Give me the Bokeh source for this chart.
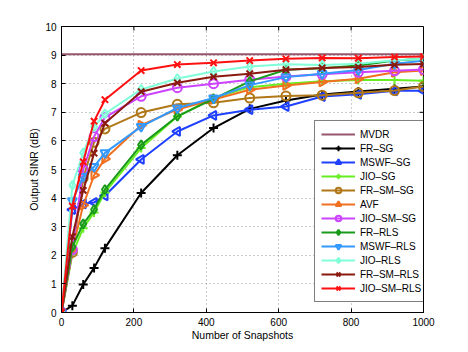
from math import pi
from bokeh.plotting import figure
from bokeh.models import Range1d, Legend, LegendItem, FixedTicker
from bokeh.embed import file_html
from bokeh.resources import INLINE

snapshots = [0, 30, 60, 90, 120, 220, 320, 420, 520, 620, 720, 820, 920, 1000]

mvdr = [9.03] * len(snapshots)
fr_sg = [0, 0.24, 0.98, 1.56, 2.25, 4.18, 5.5, 6.45, 7.12, 7.41, 7.62, 7.73, 7.82, 7.9]
mswf_sg = [0, 3.6, 3.8, 3.85, 4.08, 5.35, 6.33, 6.89, 7.09, 7.2, 7.55, 7.63, 7.75, 7.75]
jio_sg = [0, 2.05, 2.95, 3.5, 4.2, 5.75, 6.85, 7.5, 7.88, 8.0, 8.09, 8.13, 8.13, 8.1]
fr_sm_sg = [0, 2.1, 4.7, 5.95, 6.42, 6.99, 7.28, 7.33, 7.5, 7.57, 7.6, 7.68, 7.76, 7.9]
avf = [0, 2.2, 3.75, 4.8, 5.37, 6.55, 7.1, 7.45, 7.79, 7.94, 8.06, 8.17, 8.4, 8.46]
jio_sm_sg = [0, 2.2, 5.0, 6.15, 6.82, 7.56, 7.86, 8.0, 8.14, 8.25, 8.33, 8.4, 8.45, 8.5]
fr_rls = [0, 2.3, 3.1, 3.6, 4.3, 5.86, 6.86, 7.47, 8.08, 8.49, 8.54, 8.64, 8.81, 8.87]
mswf_rls = [0, 3.9, 4.75, 5.1, 5.58, 6.5, 7.15, 7.5, 7.95, 8.23, 8.35, 8.48, 8.7, 8.8]
jio_rls = [0, 4.45, 5.58, 6.5, 6.95, 7.8, 8.18, 8.43, 8.6, 8.68, 8.65, 8.7, 8.82, 8.87]
fr_sm_rls = [0, 2.65, 4.27, 5.57, 6.62, 7.72, 8.03, 8.24, 8.35, 8.49, 8.55, 8.58, 8.66, 8.69]
jio_sm_rls = [0, 3.72, 5.27, 6.69, 7.44, 8.46, 8.67, 8.73, 8.81, 8.87, 8.9, 8.89, 8.93, 8.95]

x_ticks = [0, 200, 400, 600, 800, 1000]
y_ticks = [0, 1, 2, 3, 4, 5, 6, 7, 8, 9, 10]

names = ["MVDR", "FR–SG", "MSWF–SG", "JIO–SG", "FR–SM–SG", "AVF", "JIO–SM–SG",
         "FR–RLS", "MSWF–RLS", "JIO–RLS", "FR–SM–RLS", "JIO–SM–RLS"]
series = [mvdr, fr_sg, mswf_sg, jio_sg, fr_sm_sg, avf, jio_sm_sg,
          fr_rls, mswf_rls, jio_rls, fr_sm_rls, jio_sm_rls]
colors = ["#96566e", "#000000", "#2040ff", "#66ee22", "#b07818", "#f07020", "#cc44ff",
          "#1a9a1a", "#3399ff", "#80ffd8", "#8a1a10", "#ff1111"]
markers = [None, "cross", "triangle", "cross", "circle", "triangle", "circle",
           "diamond", "inverted_triangle", "diamond", "x", "x"]
angles = [0, 0, pi / 2, 0, 0, -pi / 2, 0, 0, 0, 0, 0, 0]

FONT = "Liberation Sans"

p = figure(width=460, height=344, output_backend="svg", toolbar_location=None,
           x_range=Range1d(0, 1000), y_range=Range1d(0, 10),
           min_border_left=61, min_border_right=37, min_border_top=26, min_border_bottom=32)
p.background_fill_color = "white"
p.border_fill_color = "white"
p.outline_line_color = "#000000"
p.outline_line_width = 1

xt = FixedTicker(ticks=x_ticks)
yt = FixedTicker(ticks=y_ticks)
p.xaxis.ticker = xt
p.yaxis.ticker = yt
p.xaxis.axis_label = "Number of Snapshots"
p.yaxis.axis_label = "Output SINR (dB)"
for ax in [p.xaxis[0], p.yaxis[0]]:
    ax.major_tick_in = 4
    ax.major_tick_out = 0
    ax.minor_tick_line_color = None
    ax.major_label_text_font = FONT
    ax.major_label_text_font_size = "10px"
    ax.major_label_text_color = "#000000"
    ax.axis_label_text_font = FONT
    ax.axis_label_text_font_size = "10.5px"
    ax.axis_label_text_font_style = "normal"
    ax.axis_label_text_color = "#000000"
    ax.axis_line_color = "#000000"
    ax.major_tick_line_color = "#000000"
    ax.major_label_standoff = 5
p.xaxis[0].axis_label_standoff = 0
p.yaxis[0].axis_label_standoff = 2

p.xgrid.ticker = xt
p.ygrid.ticker = yt
for g in [p.xgrid[0], p.ygrid[0]]:
    g.grid_line_color = "#999999"
    g.grid_line_dash = "1 3"
    g.grid_line_width = 1

# tick marks on the top and right edges (MATLAB box style), from the tick lists
p.ray(x=x_ticks, y=[10] * len(x_ticks), length=4, length_units="screen",
      angle=-pi / 2, line_color="#000000", line_width=1)
p.ray(x=[1000] * len(y_ticks), y=y_ticks, length=4, length_units="screen",
      angle=pi, line_color="#000000", line_width=1)

items = []
for name, ys, col, mk, ang in zip(names, series, colors, markers, angles):
    rs = []
    ln = p.line(snapshots, ys, line_color=col, line_width=2)
    rs.append(ln)
    if mk is not None:
        sc = p.scatter(snapshots, ys, marker=mk, size=9, angle=ang,
                       line_color=col, line_width=2, fill_color=None)
        rs.append(sc)
    items.append(LegendItem(label=name, renderers=rs))

legend = Legend(items=items, location=(253, 10))
legend.label_text_font = FONT
legend.label_text_font_size = "10px"
legend.label_text_color = "#000000"
legend.glyph_width = 34
legend.glyph_height = 14
legend.label_height = 14
legend.label_standoff = 5
legend.spacing = 0
legend.padding = 6
legend.margin = 0
legend.border_line_color = "#000000"
legend.border_line_width = 1
legend.background_fill_color = "white"
legend.background_fill_alpha = 1.0
p.add_layout(legend, "center")

open("out.html", "w").write(file_html(p, INLINE))
